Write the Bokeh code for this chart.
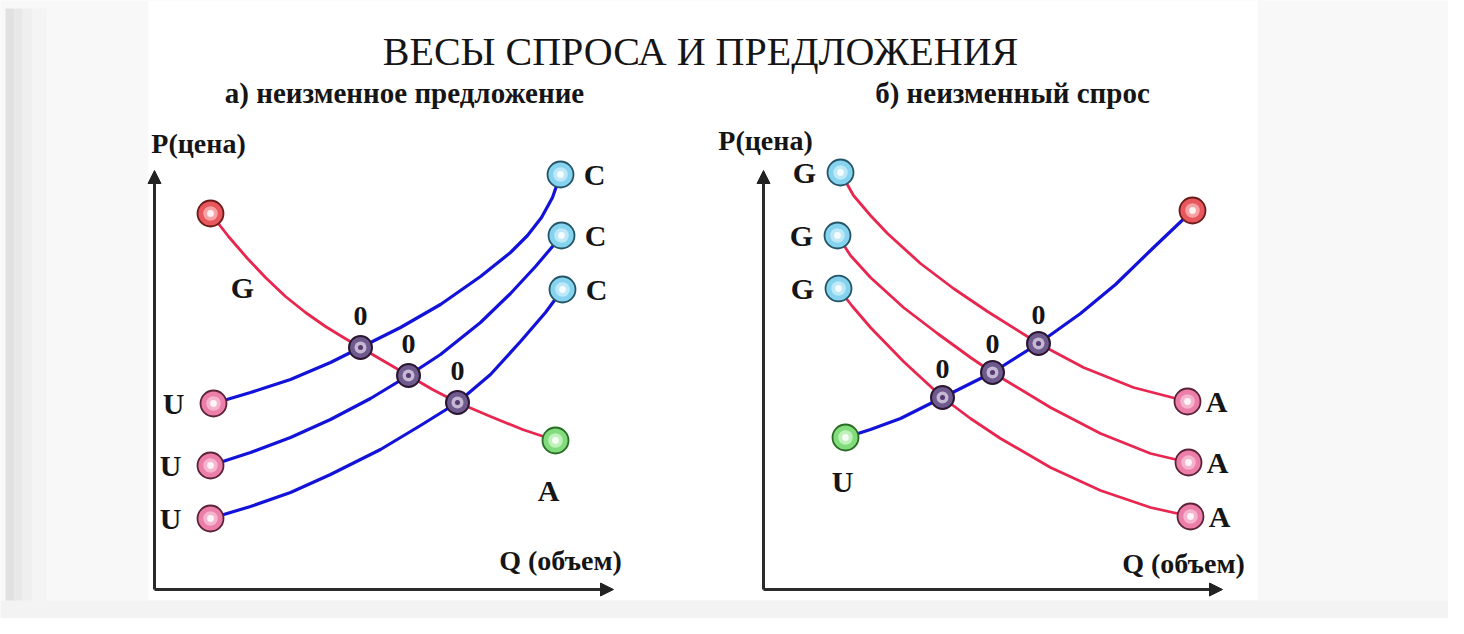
from bokeh.plotting import figure
from bokeh.models import Range1d, Label, Arrow, NormalHead, BoxAnnotation, ColumnDataSource
from bokeh.core.properties import value
from bokeh.embed import file_html
from bokeh.resources import INLINE

# ---------------- texts ----------------
TITLE = "ВЕСЫ СПРОСА И ПРЕДЛОЖЕНИЯ"
SUBTITLE_A = "а) неизменное предложение"
SUBTITLE_B = "б) неизменный спрос"
P_LABEL = "P(цена)"
Q_LABEL = "Q (объем)"
EQ_LABEL = "0"

# ---------------- panel a: fixed supply (one demand G->A, three supply U->C) ----------------
# values in panel units (Q to the right, P upward, origin at the axes' corner)
A_DEMAND_Q = [11.2, 14.8, 18.6, 22.2, 26.2, 30.2, 34.2, 37.8, 41.2, 46.0, 50.8, 55.6, 60.6, 67.2, 73.6, 80.2]
A_DEMAND_P = [75.2, 70.6, 66.2, 62.4, 58.6, 55.4, 52.6, 50.4, 48.4, 45.6, 42.8, 40.0, 37.4, 34.6, 32.0, 29.8]

A_SUPPLY1_Q = [11.8, 19.2, 27.2, 35.2, 41.2, 49.2, 57.2, 65.2, 71.2, 74.6, 77.4, 79.6, 81.2]
A_SUPPLY1_P = [37.2, 39.4, 42.0, 45.4, 48.4, 52.4, 57.0, 62.6, 67.4, 70.8, 74.4, 78.4, 83.0]
A_SUPPLY2_Q = [11.2, 19.2, 27.2, 35.2, 43.2, 50.8, 57.2, 65.2, 71.2, 76.2, 79.6, 81.4]
A_SUPPLY2_P = [24.8, 27.4, 30.4, 34.0, 38.2, 42.8, 47.0, 53.4, 59.2, 64.6, 68.6, 70.8]
A_SUPPLY3_Q = [11.2, 19.2, 27.2, 35.2, 45.2, 53.2, 60.6, 67.2, 73.2, 78.2, 81.6]
A_SUPPLY3_P = [14.2, 16.6, 19.4, 23.0, 28.0, 32.8, 37.4, 43.0, 49.6, 55.4, 60.0]

A_EQ_Q = [41.2, 50.8, 60.6]
A_EQ_P = [48.4, 42.8, 37.4]

# ---------------- panel b: fixed demand (one supply U->top, three demand G->A) ----------------
B_SUPPLY_Q = [16.4, 21.4, 27.4, 35.8, 45.8, 55.0, 63.4, 70.4, 77.4, 85.8]
B_SUPPLY_P = [30.4, 32.0, 34.2, 38.4, 43.4, 49.2, 55.2, 61.0, 67.8, 75.8]

B_DEMAND1_Q = [15.4, 18.0, 21.4, 24.8, 31.4, 38.0, 44.8, 55.0, 64.0, 74.0, 84.8]
B_DEMAND1_P = [83.4, 78.8, 74.8, 71.2, 65.2, 60.2, 55.6, 49.2, 44.4, 40.4, 37.6]
B_DEMAND2_Q = [14.8, 17.4, 21.4, 28.0, 34.8, 41.4, 45.8, 57.4, 67.4, 77.4, 85.0]
B_DEMAND2_P = [70.8, 66.8, 62.4, 56.4, 51.2, 46.4, 43.4, 36.4, 31.2, 27.2, 25.4]
B_DEMAND3_Q = [15.0, 17.8, 21.4, 28.0, 35.8, 41.4, 47.4, 57.4, 67.4, 77.4, 85.4]
B_DEMAND3_P = [60.2, 56.6, 52.4, 45.6, 38.4, 34.2, 30.2, 24.4, 19.8, 16.4, 14.6]

B_EQ_Q = [35.8, 45.8, 55.0]
B_EQ_P = [38.4, 43.4, 49.2]

AXIS_Q_MAX = 91.8
AXIS_P_MAX = 83.8

# ---------------- layout / style ----------------
W, H = 1448, 618
UNIT = 5.0                     # screen pixels per panel unit
ORIGIN_A = (154, 29)           # page position of panel a's axes corner
ORIGIN_B = (763, 29)           # page position of panel b's axes corner
FONT = "Liberation Serif"
INK = "#151515"
BLUE = "#1212d8"
RED = "#e8264f"
PINK = ("#ec7fa9", "#fbd6e6", "#5b2238")
CYAN = ("#86d3ef", "#e2f7fe", "#245566")
REDB = ("#e8575c", "#ffd4d4", "#6b1a1a")
GREEN = ("#82dc7c", "#e8ffe5", "#286b25")
EQ = ("#6f5a8e", "#eadff0", "#2a1630")

p = figure(width=W, height=H, x_range=Range1d(0, W), y_range=Range1d(0, H),
           output_backend="svg", toolbar_location=None, min_border=0,
           x_axis_type=None, y_axis_type=None,
           background_fill_color="#f8f8f8", border_fill_color="#f8f8f8",
           outline_line_color=None)

p.extra_x_ranges = {
    "qa": Range1d(-ORIGIN_A[0] / UNIT, (W - ORIGIN_A[0]) / UNIT),
    "qb": Range1d(-ORIGIN_B[0] / UNIT, (W - ORIGIN_B[0]) / UNIT),
}
p.extra_y_ranges = {"pp": Range1d(-ORIGIN_A[1] / UNIT, (H - ORIGIN_A[1]) / UNIT)}

# background panels (page units)
p.add_layout(BoxAnnotation(left=148, right=1257, bottom=18, top=H, fill_color="white",
                           fill_alpha=1, line_color=None, level="underlay"))
for l, r, c in [(5, 14, "#e1e1e1"), (14, 22, "#e8e8e8"), (22, 32, "#efefef"), (32, 46, "#f4f4f4")]:
    p.add_layout(BoxAnnotation(left=l, right=r, bottom=4, top=H - 8, fill_color=c,
                               fill_alpha=1, line_color=None, level="underlay"))
p.add_layout(BoxAnnotation(left=0, right=W, bottom=0, top=18, fill_color="#f3f3f3",
                           fill_alpha=1, line_color=None, level="underlay"))


def axes(xr):
    for xe, ye in [(0, AXIS_P_MAX), (AXIS_Q_MAX, 0)]:
        p.add_layout(Arrow(end=NormalHead(size=13, fill_color="#222222", line_color="#222222", line_width=1),
                           x_start=0, y_start=0, x_end=xe, y_end=ye,
                           line_color="#2a2a2a", line_width=3,
                           x_range_name=xr, y_range_name="pp"))


def curve(qs, ps, color, width, xr):
    p.line(qs, ps, line_color=color, line_width=width, line_join="round", line_cap="round",
           x_range_name=xr, y_range_name="pp")


def balls(qs, ps, style, xr, size=26):
    fill, light, edge = style
    p.scatter(qs, ps, marker="circle", size=size, fill_color=fill, line_color=edge, line_width=1.8,
              x_range_name=xr, y_range_name="pp")
    p.scatter(qs, ps, marker="circle", size=size * 0.56, fill_color=light, fill_alpha=0.6,
              line_color=None, x_range_name=xr, y_range_name="pp")
    p.scatter(qs, ps, marker="circle", size=size * 0.26, fill_color="white", fill_alpha=0.85,
              line_color=None, x_range_name=xr, y_range_name="pp")


def eq_balls(qs, ps, xr):
    fill, light, edge = EQ
    p.scatter(qs, ps, marker="circle", size=23, fill_color=fill, line_color=edge, line_width=2,
              x_range_name=xr, y_range_name="pp")
    p.scatter(qs, ps, marker="circle", size=12, fill_color=light, fill_alpha=0.7,
              line_color=None, x_range_name=xr, y_range_name="pp")
    p.scatter(qs, ps, marker="circle", size=5, fill_color="#4a2a66", fill_alpha=0.9,
              line_color=None, x_range_name=xr, y_range_name="pp")


def texts(qs, ps, labels, xr, dx=0, dy=0, size="30px", style="bold", align="center"):
    src = ColumnDataSource(dict(x=qs, y=ps, t=labels))
    p.text(x="x", y="y", text="t", source=src, x_offset=dx, y_offset=dy,
           text_font=value(FONT), text_font_size=size, text_font_style=style,
           text_color=INK, text_align=align, text_baseline="middle",
           x_range_name=xr, y_range_name="pp")


# ---------- panel a ----------
axes("qa")
a_supply = [(A_SUPPLY1_Q, A_SUPPLY1_P), (A_SUPPLY2_Q, A_SUPPLY2_P), (A_SUPPLY3_Q, A_SUPPLY3_P)]
for qs, ps in a_supply:
    curve(qs, ps, BLUE, 3.2, "qa")
curve(A_DEMAND_Q, A_DEMAND_P, RED, 2.8, "qa")
balls([s[0][0] for s in a_supply], [s[1][0] for s in a_supply], PINK, "qa")
balls([s[0][-1] for s in a_supply], [s[1][-1] for s in a_supply], CYAN, "qa")
balls([A_DEMAND_Q[0]], [A_DEMAND_P[0]], REDB, "qa")
balls([A_DEMAND_Q[-1]], [A_DEMAND_P[-1]], GREEN, "qa")
eq_balls(A_EQ_Q, A_EQ_P, "qa")
texts([s[0][0] for s in a_supply], [s[1][0] for s in a_supply], ["U"] * 3, "qa", dx=-40)
texts([s[0][-1] for s in a_supply], [s[1][-1] for s in a_supply], ["C"] * 3, "qa", dx=34)
texts([A_DEMAND_Q[0]], [A_DEMAND_P[0]], ["G"], "qa", dx=32, dy=74)
texts([A_DEMAND_Q[-1]], [A_DEMAND_P[-1]], ["A"], "qa", dx=-7, dy=50)
texts(A_EQ_Q, A_EQ_P, [EQ_LABEL] * 3, "qa", dy=-32, size="28px")

# ---------- panel b ----------
axes("qb")
b_demand = [(B_DEMAND1_Q, B_DEMAND1_P), (B_DEMAND2_Q, B_DEMAND2_P), (B_DEMAND3_Q, B_DEMAND3_P)]
for qs, ps in b_demand:
    curve(qs, ps, RED, 2.8, "qb")
curve(B_SUPPLY_Q, B_SUPPLY_P, BLUE, 3.2, "qb")
balls([d[0][0] for d in b_demand], [d[1][0] for d in b_demand], CYAN, "qb")
balls([d[0][-1] for d in b_demand], [d[1][-1] for d in b_demand], PINK, "qb")
balls([B_SUPPLY_Q[0]], [B_SUPPLY_P[0]], GREEN, "qb")
balls([B_SUPPLY_Q[-1]], [B_SUPPLY_P[-1]], REDB, "qb")
eq_balls(B_EQ_Q, B_EQ_P, "qb")
texts([d[0][0] for d in b_demand], [d[1][0] for d in b_demand], ["G"] * 3, "qb", dx=-36)
texts([d[0][-1] for d in b_demand], [d[1][-1] for d in b_demand], ["A"] * 3, "qb", dx=29)
texts([B_SUPPLY_Q[0]], [B_SUPPLY_P[0]], ["U"], "qb", dx=-3, dy=44)
texts(B_EQ_Q, B_EQ_P, [EQ_LABEL] * 3, "qb", dy=-29, size="28px")

# ---------- axis names (panel units) ----------
texts([8.8], [89.2], [P_LABEL], "qa", size="28px")
texts([0.4], [89.8], [P_LABEL], "qb", size="28px")
texts([81.2], [5.8], [Q_LABEL], "qa", size="28px")
texts([84.0], [5.2], [Q_LABEL], "qb", size="28px")

# ---------- headings (page units) ----------
p.add_layout(Label(x=700, y=567, text=TITLE, text_font=FONT, text_font_size="40px",
                   text_font_style="normal", text_color=INK, text_align="center", text_baseline="middle"))
p.add_layout(Label(x=404, y=526, text=SUBTITLE_A, text_font=FONT, text_font_size="29px",
                   text_font_style="bold", text_color=INK, text_align="center", text_baseline="middle"))
p.add_layout(Label(x=1012, y=526, text=SUBTITLE_B, text_font=FONT, text_font_size="29px",
                   text_font_style="bold", text_color=INK, text_align="center", text_baseline="middle"))

open("out.html", "w").write(file_html(p, INLINE))
